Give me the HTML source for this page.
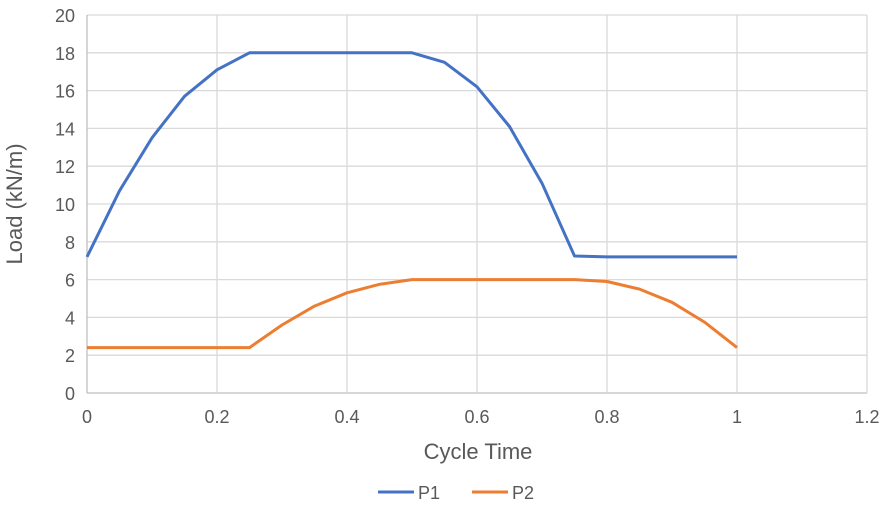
<!DOCTYPE html>
<html><head><meta charset="utf-8"><style>
body{margin:0;background:#fff;}
svg{display:block;font-family:"Liberation Sans",Calibri,sans-serif;}
</style></head><body>
<svg id="chart" width="886" height="507">
<g id="grid"></g>
<g id="axes"></g>
<g id="series"></g>
<text x="478" y="459" text-anchor="middle" font-size="22" fill="#595959">Cycle Time</text>
<text transform="translate(22,204) rotate(-90)" text-anchor="middle" font-size="22" fill="#595959">Load (kN/m)</text>
<g>
<g><line x1="378" y1="492" x2="414" y2="492" stroke="#4472C4" stroke-width="3"/><text x="418" y="499" font-size="18" fill="#595959">P1</text></g>
<g><line x1="472" y1="492" x2="508" y2="492" stroke="#ED7D31" stroke-width="3"/><text x="512" y="499" font-size="18" fill="#595959">P2</text></g>
</g>
</svg>
<script>
const xValues=[0,0.05,0.1,0.15,0.2,0.25,0.3,0.35,0.4,0.45,0.5,0.55,0.6,0.65,0.7,0.75,0.8,0.85,0.9,0.95,1];
const p1Values=[7.2,10.7,13.5,15.7,17.1,18.0,18.0,18.0,18.0,18.0,18.0,17.5,16.2,14.1,11.1,7.25,7.2,7.2,7.2,7.2,7.2];
const p2Values=[2.4,2.4,2.4,2.4,2.4,2.4,3.6,4.6,5.3,5.75,6.0,6.0,6.0,6.0,6.0,6.0,5.9,5.5,4.8,3.75,2.4];
const xTicks=[0,0.2,0.4,0.6,0.8,1,1.2];
const yTicks=[0,2,4,6,8,10,12,14,16,18,20];
const NS="http://www.w3.org/2000/svg";
const X0=87,X1=867,Y0=393,Y1=15;
const sx=v=>X0+(v/1.2)*(X1-X0);
const sy=v=>Y0-(v/20)*(Y0-Y1);
function mk(tag,attrs,parent){const e=document.createElementNS(NS,tag);for(const k in attrs)e.setAttribute(k,attrs[k]);parent.appendChild(e);return e;}
const grid=document.getElementById('grid'),axes=document.getElementById('axes'),series=document.getElementById('series');
yTicks.forEach(t=>{
 const l=mk('line',{x1:X0,x2:X1,y1:sy(t),y2:sy(t),stroke:t===0?'#bfbfbf':'#d9d9d9','stroke-width':1.3},grid);
 
 
 const tx=mk('text',{x:X0-12,y:sy(t)+7,'text-anchor':'end','font-size':18,fill:'#595959'},axes);
 tx.textContent=t;
 
 
});
xTicks.forEach(t=>{
 const l=mk('line',{x1:sx(t),x2:sx(t),y1:Y1,y2:Y0,stroke:t===0?'#bfbfbf':'#d9d9d9','stroke-width':1.3},grid);
 
 
 const tx=mk('text',{x:sx(t),y:Y0+30,'text-anchor':'middle','font-size':18,fill:'#595959'},axes);
 tx.textContent=t;
 
 
});
function line(vals,color,name){
 const pts=xValues.map((x,i)=>sx(x).toFixed(1)+','+sy(vals[i]).toFixed(1)).join(' ');
 const p=mk('polyline',{points:pts,fill:'none',stroke:color,'stroke-width':3,'stroke-linejoin':'round'},series);
 
 
}
line(p1Values,'#4472C4','series-p1-line');
line(p2Values,'#ED7D31','series-p2-line');
</script>
</body></html>
